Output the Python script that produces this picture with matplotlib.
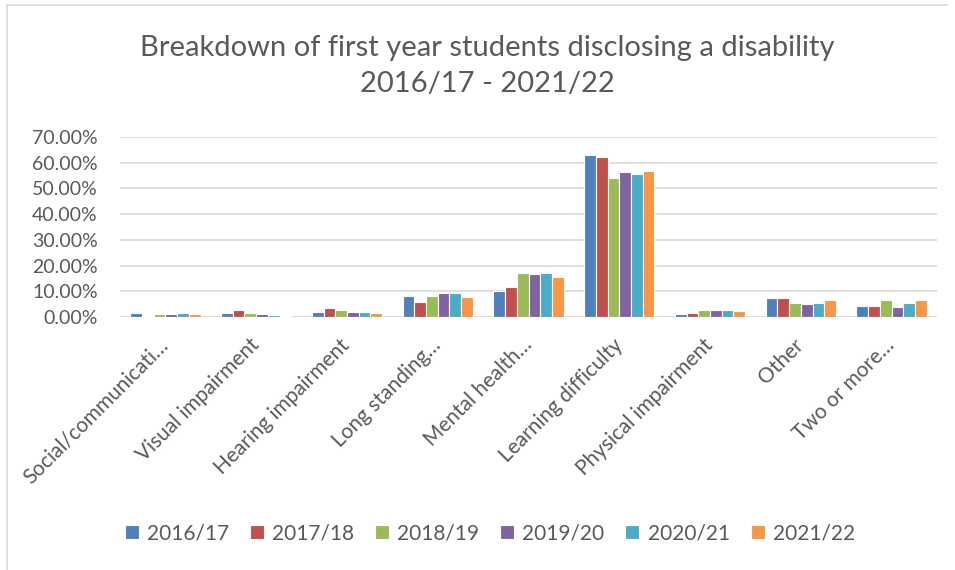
import matplotlib.pyplot as plt
import numpy as np
from matplotlib.lines import Line2D

plt.rcParams['font.family'] = ['Lato', 'DejaVu Sans']

categories = ["Social/communicati…", "Visual impairment", "Hearing impairment",
              "Long standing…", "Mental health…", "Learning difficulty",
              "Physical impairment", "Other", "Two or more…"]
years = ["2016/17", "2017/18", "2018/19", "2019/20", "2020/21", "2021/22"]

# share of first year students per category, one list per year (percent)
y2016 = [1.4, 1.7, 2.1, 8.2, 10.1, 63.0, 1.2, 7.3, 4.4]
y2017 = [0.3, 2.6, 3.5, 5.8, 11.7, 62.3, 1.4, 7.3, 4.4]
y2018 = [1.0, 1.4, 2.6, 8.2, 17.0, 54.0, 2.7, 5.5, 6.8]
y2019 = [1.3, 1.3, 2.1, 9.2, 16.8, 56.5, 2.9, 5.0, 4.0]
y2020 = [1.4, 0.6, 2.1, 9.5, 17.0, 55.6, 2.7, 5.3, 5.3]
y2021 = [1.0, 0.4, 1.4, 7.9, 15.5, 56.8, 2.2, 6.5, 6.8]
series = [y2016, y2017, y2018, y2019, y2020, y2021]

colors = ["#4F81BD", "#C0504D", "#9BBB59", "#8064A2", "#4BACC6", "#F79646"]
grey = "#595959"

fig = plt.figure(figsize=(9.55, 5.70), dpi=100)
ax = fig.add_axes([120 / 955, 1 - 317 / 570, 817 / 955, 180 / 570])

x = np.arange(len(categories))
w = 0.129
for i, (vals, c) in enumerate(zip(series, colors)):
    ax.bar(x + (i - 2.5) * w, np.array(vals) / 100, width=w, color=c,
           edgecolor="white", linewidth=0.8, label=years[i], zorder=3)

ax.set_xlim(-0.5, len(categories) - 0.5)
ax.set_ylim(0, 0.7)
ax.set_yticks(np.arange(0, 0.71, 0.1))
ax.set_yticklabels([f"{v:.2f}%" for v in np.arange(0, 71, 10)])
ax.yaxis.grid(True, color="#d9d9d9", linewidth=1.2, zorder=0)
ax.set_axisbelow(True)
for s in ax.spines.values():
    s.set_visible(False)
ax.axhline(0, color="#d9d9d9", linewidth=1.2, zorder=2)
ax.tick_params(length=0, colors=grey)
ax.tick_params(axis="y", labelsize=14, pad=16)
ax.tick_params(axis="x", labelsize=15, pad=18)
ax.set_xticks(x)
ax.set_xticklabels(categories, rotation=45, ha="right", va="center",
                   rotation_mode="anchor")

fig.text(0.51, 0.915, "Breakdown of first year students disclosing a disability",
         ha="center", va="center", fontsize=21, color=grey)
fig.text(0.51, 0.852, "2016/17 - 2021/22", ha="center", va="center",
         fontsize=21, color=grey)

fig.legend(loc="center", bbox_to_anchor=(0.513, 1 - 533 / 570), ncol=6,
           frameon=False, fontsize=15, handlelength=0.67, handleheight=0.67,
           handletextpad=0.4, columnspacing=1.0, labelcolor=grey)

# thin frame around the chart area
fig.add_artist(Line2D([7 / 955, 7 / 955], [0, 1 - 5 / 570], color="#d9d9d9", lw=1.2))
fig.add_artist(Line2D([7 / 955, 947 / 955], [1 - 5 / 570, 1 - 5 / 570], color="#d9d9d9", lw=1.2))

fig.savefig("out.png", dpi=100)
